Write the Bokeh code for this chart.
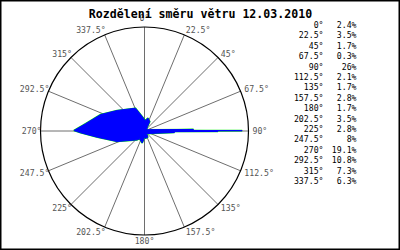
import math
from bokeh.plotting import figure
from bokeh.models import Range1d
from bokeh.core.properties import value
from bokeh.embed import file_html
from bokeh.resources import INLINE

# ---- data ----
title_text = "Rozdělení směru větru 12.03.2010"
dir_angles = [0, 22.5, 45, 67.5, 90, 112.5, 135, 157.5, 180, 202.5, 225, 247.5, 270, 292.5, 315, 337.5]
dir_labels = ["0°", "22.5°", "45°", "67.5°", "90°", "112.5°", "135°", "157.5°", "180°",
              "202.5°", "225°", "247.5°", "270°", "292.5°", "315°", "337.5°"]
dir_percent = ["2.4%", "3.5%", "1.7%", "0.3%", "26%", "2.1%", "1.7%", "2.8%", "1.7%",
               "3.5%", "2.8%", "8%", "19.1%", "10.8%", "7.3%", "6.3%"]
# polygon of the wind samples (angle in degrees clockwise from north, radius)
poly_angle = [5.4, 14.5, 29.2, 33.7, 59, 88.2, 70.7, 89.8, 93, 90.4, 109, 92.9, 141, 152,
              172.4, 180, 190.7, 212, 219.7, 249, 262.5, 268.4, 270.4, 277, 290.6, 306.9,
              338.5, 343.1]
poly_radius = [2.8, 3.6, 2.9, 1.5, 0.6, 13.2, 0.6, 26.3, 0.5, 19.8, 0.6, 8.1, 0.9, 1.9,
               2.0, 1.7, 3.3, 2.5, 3.1, 7.9, 12.8, 17.2, 19.0, 16.0, 12.6, 9.2, 6.6, 5.3]
r_max = 28.0

# ---- layout (pixel geometry) ----
W, H = 400, 250
CX, CY, RPX = 144.0, 130.5, 104.0
K = RPX / r_max  # px per unit


def X(px):
    return (px - CX) / K


def Y(py):
    return (CY - py) / K


p = figure(width=W, height=H, output_backend="svg", toolbar_location=None,
           x_range=Range1d(X(0), X(W)), y_range=Range1d(Y(H), Y(0)),
           min_border=0)
p.axis.visible = False
p.grid.visible = False
p.outline_line_color = "black"
p.outline_line_width = 2
p.background_fill_color = "white"
p.border_fill_color = "white"

# spokes
sx = [r_max * math.sin(math.radians(a)) for a in dir_angles]
sy = [r_max * math.cos(math.radians(a)) for a in dir_angles]
p.segment(x0=[0] * len(sx), y0=[0] * len(sy), x1=sx, y1=sy, line_color="#6e6e6e", line_width=1)

# outer circle
p.circle(x=[0], y=[0], radius=r_max, fill_color=None, line_color="black", line_width=1.2)

# data polygon
px_ = [r * math.sin(math.radians(a)) for a, r in zip(poly_angle, poly_radius)]
py_ = [r * math.cos(math.radians(a)) for a, r in zip(poly_angle, poly_radius)]
p.patch(px_, py_, fill_color=None, line_color="#00ee00", line_width=1.6)
p.patch(px_, py_, fill_color="#0000ff", line_color="#0000ff", line_width=1)

# angle labels around the circle
for a, lab in zip(dir_angles, dir_labels):
    s, c = math.sin(math.radians(a)), math.cos(math.radians(a))
    ly = CY - (RPX + 5) * c
    if abs(s) < 1e-6:
        lx, align = CX, "center"
        ly = CY - (RPX + (9 if c > 0 else 6)) * c
    elif s > 0:
        lx, align = CX + (RPX + 4) * s, "left"
    else:
        lx, align = CX + RPX * s + 1, "right"
    p.text(x=[X(lx)], y=[Y(ly)], text=[lab], text_align=align, text_baseline="middle",
           text_font=value("DejaVu Sans Mono"), text_font_size="8.2px", text_color="#555555")

# title
p.text(x=[X(200)], y=[Y(13)], text=[title_text], text_align="center", text_baseline="middle",
       text_font=value("DejaVu Sans Mono"), text_font_size="11.6px", text_font_style="bold",
       text_color="black")

# legend table
rows_y = [Y(24.5 + i * 10.4) for i in range(len(dir_labels))]
p.text(x=[X(323)] * len(rows_y), y=rows_y, text=dir_labels, text_align="right", text_baseline="middle",
       text_font=value("DejaVu Sans Mono"), text_font_size="8.2px", text_color="black")
p.text(x=[X(356)] * len(rows_y), y=rows_y, text=dir_percent, text_align="right", text_baseline="middle",
       text_font=value("DejaVu Sans Mono"), text_font_size="8.2px", text_color="black")

open("out.html", "w").write(file_html(p, INLINE))
